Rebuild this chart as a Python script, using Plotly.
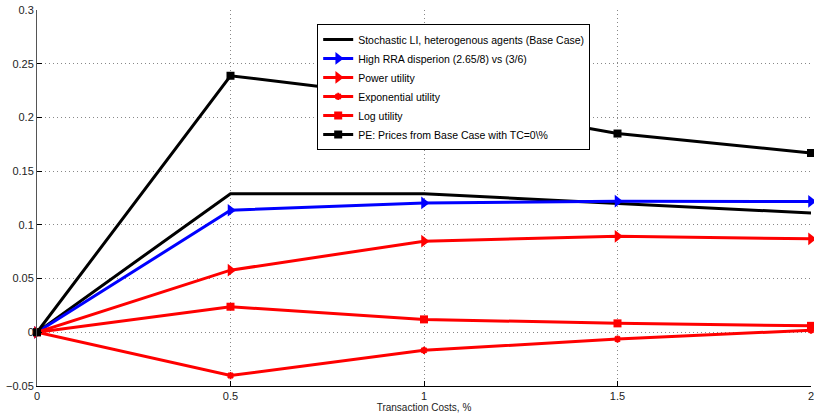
import plotly.graph_objects as go

tc = [0, 0.5, 1, 1.5, 2]
base_case = [0, 0.129, 0.129, 0.120, 0.111]
high_rra = [0, 0.1136, 0.1204, 0.1220, 0.1218]
power_util = [0, 0.0578, 0.0848, 0.0893, 0.0870]
exp_util = [0, -0.0403, -0.0168, -0.0063, 0.002]
log_util = [0, 0.0238, 0.0120, 0.0083, 0.0060]
pe_prices = [0, 0.2388, 0.217, 0.185, 0.1669]

names = [
    "Stochastic LI, heterogenous agents (Base Case)",
    "High RRA disperion (2.65/8) vs (3/6)",
    "Power utility",
    "Exponential utility",
    "Log utility",
    "PE: Prices from Base Case with TC=0\\%",
]

fig = go.Figure()
fig.add_trace(go.Scatter(x=tc, y=base_case, mode="lines", name=names[0],
                         line=dict(color="black", width=3), cliponaxis=False))
fig.add_trace(go.Scatter(x=tc, y=high_rra, mode="lines+markers", name=names[1],
                         line=dict(color="blue", width=3),
                         marker=dict(symbol="triangle-right", size=11, color="blue"),
                         cliponaxis=False))
fig.add_trace(go.Scatter(x=tc, y=power_util, mode="lines+markers", name=names[2],
                         line=dict(color="red", width=3),
                         marker=dict(symbol="triangle-right", size=11, color="red"),
                         cliponaxis=False))
fig.add_trace(go.Scatter(x=tc, y=exp_util, mode="lines+markers", name=names[3],
                         line=dict(color="red", width=3),
                         marker=dict(symbol="asterisk-open", size=6, color="red",
                                     line=dict(color="red", width=2)),
                         cliponaxis=False))
fig.add_trace(go.Scatter(x=tc, y=log_util, mode="lines+markers", name=names[4],
                         line=dict(color="red", width=3),
                         marker=dict(symbol="square", size=8, color="red"),
                         cliponaxis=False))
fig.add_trace(go.Scatter(x=tc, y=pe_prices, mode="lines+markers", name=names[5],
                         line=dict(color="black", width=3),
                         marker=dict(symbol="square", size=8, color="black"),
                         cliponaxis=False))

fig.update_layout(
    width=814, height=413,
    margin=dict(l=37, r=3, t=10, b=27),
    paper_bgcolor="white", plot_bgcolor="white",
    font=dict(family="Liberation Sans, Arial, sans-serif", size=11, color="#222"),
    showlegend=True,
    legend=dict(x=0.362, y=0.963, xanchor="left", yanchor="top",
                bgcolor="white", bordercolor="black", borderwidth=1,
                font=dict(size=10.5, color="black"), tracegroupgap=0,
                itemwidth=30),
    xaxis=dict(range=[0, 2], tickvals=tc, ticktext=["0", "0.5", "1", "1.5", "2"],
               automargin=False, ticklabeloverflow="allow",
               showgrid=True, gridcolor="#888", griddash="1px,3px", gridwidth=1,
               showline=True, linecolor="black", linewidth=1,
               ticks="inside", ticklen=5, tickcolor="black",
               zeroline=False,
               title=dict(text="Transaction Costs, %", font=dict(size=10), standoff=2)),
    yaxis=dict(range=[-0.05, 0.3], dtick=0.05, automargin=False,
               ticklabeloverflow="allow",
               showgrid=True, gridcolor="#888", griddash="1px,3px", gridwidth=1,
               showline=True, linecolor="#555", linewidth=1,
               ticks="inside", ticklen=5, tickcolor="black",
               zeroline=False),
)

fig.write_html("out.html", config={"displayModeBar": False},
               post_script="document.body.style.margin='0';document.body.style.overflow='hidden';")
